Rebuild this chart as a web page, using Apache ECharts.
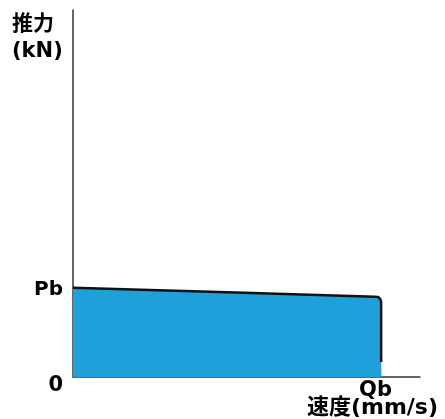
<!DOCTYPE html>
<html>
<head>
<meta charset="utf-8">
<script src="https://cdn.jsdelivr.net/npm/echarts@6/dist/echarts.min.js"></script>
<style>html,body{margin:0;padding:0;background:#fff}#c{width:445px;height:419px}</style>
</head>
<body>
<div id="c"></div>
<script>
// Data (relative units, axes span 0..100)
const speedValues  = [0, 87.0, 87.9, 88.6, 88.8, 88.8, 88.9];
const thrustValues = [24.3, 21.9, 21.8, 21.1, 20.2, 4.1, 0];
const yTickLabels = ['0', 'Pb'];
const xTickLabels = ['Qb'];
const yAxisTitle = '推力\n(kN)';
const xAxisTitle = '速度(mm/s)';

const PB = thrustValues[0];
const QB = speedValues[speedValues.length - 1];
const FONT = "'DejaVu Sans', 'Noto Sans CJK JP', sans-serif";

const areaData = speedValues.map((x, i) => [x, thrustValues[i]]);
const outlineData = areaData.slice(0, areaData.length - 1);

const chart = echarts.init(document.getElementById('c'), null, {renderer: 'canvas'});
chart.setOption({
  backgroundColor: '#fff',
  animation: false,
  title: {
    text: yAxisTitle, left: 12, top: 11, padding: 0,
    textStyle: {fontFamily: FONT, fontWeight: 'bold', fontSize: 21, lineHeight: 27, color: '#000'}
  },
  grid: {left: 73, right: 25, top: 10, bottom: 42, containLabel: false, outerBoundsMode: 'none'},
  xAxis: {
    type: 'value', min: 0, max: 100,
    axisLine: {show: true, lineStyle: {color: '#333', width: 1.5}},
    axisTick: {show: false}, splitLine: {show: false},
    axisLabel: {
      customValues: [QB], margin: 3,
      formatter: () => '{q|' + xTickLabels[0] + '}',
      rich: {q: {fontFamily: FONT, fontWeight: 'bold', fontSize: 21, color: '#000', padding: [0, 12, 0, 0]}}
    },
    name: '{n|' + xAxisTitle + '}', nameLocation: 'end', nameGap: 18,
    nameMoveOverlap: false,
    nameTextStyle: {align: 'right', verticalAlign: 'top',
      rich: {n: {fontFamily: FONT, fontWeight: 'bold', fontSize: 22, color: '#000', padding: [20, 0, 0, 0]}}}
  },
  yAxis: {
    type: 'value', min: 0, max: 100,
    axisLine: {show: true, lineStyle: {color: '#333', width: 1.5}},
    axisTick: {show: false}, splitLine: {show: false},
    axisLabel: {
      customValues: [0, PB], margin: 10,
      formatter: (v) => v === 0 ? '{z|' + yTickLabels[0] + '}' : '{p|' + yTickLabels[1] + '}',
      rich: {
        z: {fontFamily: FONT, fontWeight: 'bold', fontSize: 21, color: '#000', padding: [18, 0, 0, 0]},
        p: {fontFamily: FONT, fontWeight: 'bold', fontSize: 20, color: '#000', padding: [3, 0, 0, 0]}
      }
    }
  },
  series: [
    {
      type: 'line', data: areaData, symbol: 'none', smooth: false,
      lineStyle: {width: 0},
      areaStyle: {color: '#1fa0da', opacity: 1}, z: 2
    },
    {
      type: 'line', data: outlineData, symbol: 'none', smooth: 0.3,
      lineStyle: {color: '#111', width: 2.5}, z: 3
    }
  ]
});
</script>
</body>
</html>
